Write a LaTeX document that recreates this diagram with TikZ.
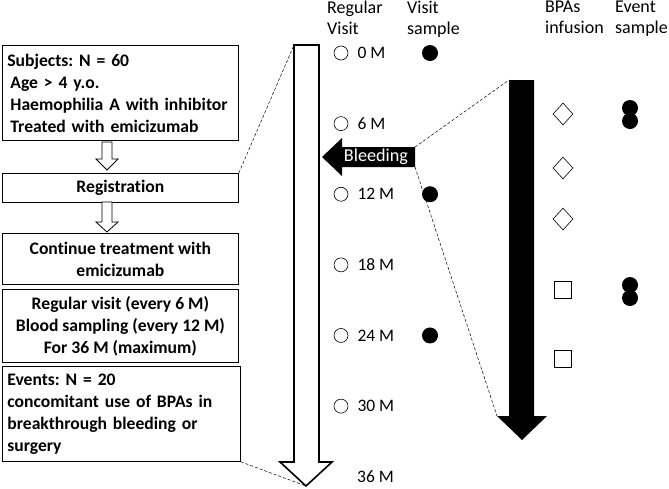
\documentclass[tikz,border=0pt]{standalone}
\usepackage{fontspec}
\setmainfont{Carlito}[Ligatures=NoCommon]
\usetikzlibrary{positioning,calc,shapes.geometric}

\tikzset{
  stepbox/.style={draw, line width=0.8pt, anchor=north west, inner sep=5pt,
    minimum width=236pt, font=\bfseries\fontsize{17.6}{22}\selectfont},
  hollow/.style={draw, line width=0.8pt, fill=white},
  visit/.style={circle, draw, line width=0.6pt, minimum size=14pt, inner sep=0pt},
  sampledot/.style={circle, fill, minimum size=16pt, inner sep=0pt},
  infusion/.style={diamond, draw, line width=0.6pt, minimum width=20pt, minimum height=22pt, inner sep=0pt},
  surgery/.style={rectangle, draw, line width=0.6pt, minimum size=17pt, inner sep=0pt},
  month/.style={anchor=west, inner sep=0pt, font=\fontsize{17.5}{20}\selectfont},
  header/.style={anchor=north west, inner sep=0pt, align=left, font=\fontsize{18}{21}\selectfont},
  zoomline/.style={densely dashed, line width=0.5pt}
}

\begin{document}
\frenchspacing
\begin{tikzpicture}[x=1pt,y=-1pt]
  \useasboundingbox (0,0) rectangle (669,488);

  % flow of the study
  \node[stepbox, minimum height=95pt, text width=226pt, align=left] (subj) at (2,45)
    {Subjects: N = 60\\\hspace*{3pt}Age > 4 y.o.\\\hspace*{3pt}Haemophilia A with inhibitor\\\hspace*{3pt}Treated with emicizumab};
  \node[stepbox, minimum height=29pt] (reg) at (2,173) {Registration};
  \node[stepbox, minimum height=51pt, align=center] (cont) at (2,233) {Continue treatment with\\emicizumab};
  \node[stepbox, minimum height=73pt, align=center] (vis) at (2,289)
    {Regular visit (every 6 M)\\Blood sampling (every 12 M)\\For 36 M (maximum)};
  \node[stepbox, minimum width=238pt, minimum height=95pt, text width=228pt, align=left] (ev) at (2,366)
    {Events: N = 20\\concomitant use of BPAs in\\breakthrough bleeding or\\surgery};

  \draw[hollow] (102,142) -- (112,142) -- (112,159) -- (118,159) -- (107,170) -- (96,159) -- (102,159) -- cycle;
  \draw[hollow] (102,202) -- (112,202) -- (112,222) -- (118,222) -- (107,232) -- (96,222) -- (102,222) -- cycle;

  % 36 month period
  \coordinate (ltop) at (294,45);
  \coordinate (ltip) at (306,486);
  \draw[line width=1.6pt, line join=miter] (ltop) -- (319,45) -- (319,462) -- (332,462) -- (ltip)
    -- (280,462) -- (294,462) -- cycle;
  \draw[zoomline] (reg.north east) -- (ltop);
  \draw[zoomline] (ev.south east) -- (ltip);

  % headers
  \node[header] (hreg) at (327,1) {Regular\\Visit};
  \node[header] (hvs) at (407,1) {Visit\\sample};
  \node[header] (hbpa) at (545,1) {BPAs\\infusion};
  \node[header] (hes) at (615,1) {Event\\sample};

  % regular visits
  \foreach \t in {0,6,...,30} {
    \node[visit] (v\t) at (341,{53+11.77*\t}) {};
    \node[month, right=9pt of v\t] (m\t) {\t\ M};
  }
  \node[month] (m36) at (357,476.7) {36 M};
  \foreach \t in {0,12,24}
    \node[sampledot] (s\t) at (430,{53+11.77*\t}) {};

  % bleeding event
  \coordinate (btop) at (415,147);
  \coordinate (bbot) at (415,167);
  \fill (btop) -- (342,147) -- (342,138) -- (322,157) -- (342,176) -- (342,167) -- (bbot) -- cycle;
  \node[white, font=\fontsize{18.2}{20}\selectfont] (bleed) at (376,157) {Bleeding};

  \coordinate (etop) at (509,80);
  \coordinate (ehead) at (497,416);
  \fill (etop) -- (534,80) -- (534,416) -- (547,416) -- (522,440) -- (ehead) -- (509,416) -- cycle;
  \draw[zoomline] (btop) -- (etop);
  \draw[zoomline] (bbot) -- (ehead);

  % BPAs infusion and event samples
  \foreach \n/\yy in {1/114,2/168,3/219}
    \node[infusion] (d\n) at (563,\yy) {};
  \foreach \n/\yy in {1/290,2/359}
    \node[surgery] (q\n) at (563,\yy) {};
  \foreach \n/\yy in {1/108,2/121,3/285,4/298}
    \node[sampledot] (e\n) at (630,\yy) {};
\end{tikzpicture}
\end{document}
